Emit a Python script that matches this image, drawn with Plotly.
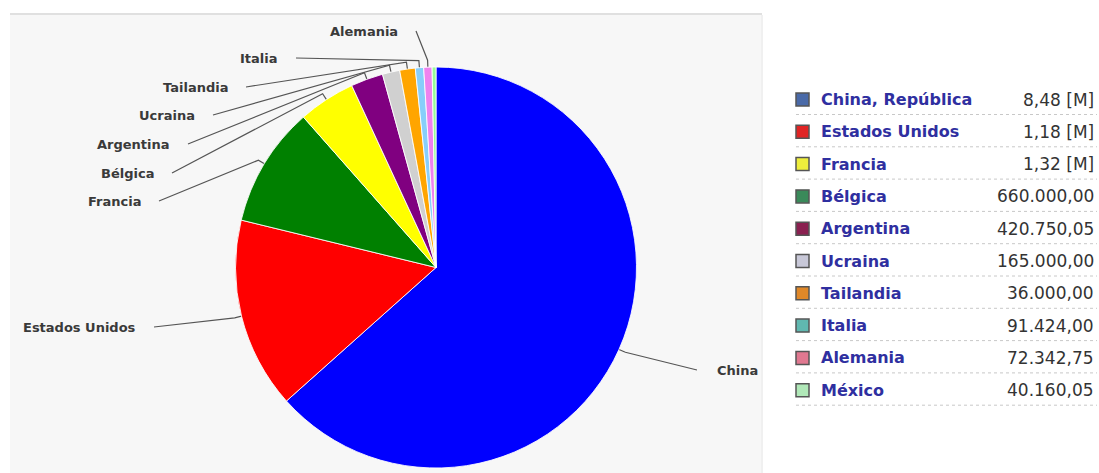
import math
import plotly.graph_objects as go

# ---------------- data ----------------
slice_names = ["China", "Estados Unidos", "Francia", "Bélgica", "Argentina",
               "Ucraina", "Tailandia", "Italia", "Alemania", "México"]
slice_share = [63.4, 15.4, 9.7, 4.6, 2.6, 1.4, 1.25, 0.67, 0.67, 0.31]
slice_colors = ["#0000ff", "#ff0000", "#008000", "#ffff00", "#800080",
                "#d0d0d0", "#ffa500", "#87cefa", "#ee82ee", "#98fb98"]

legend_names = ["China, República", "Estados Unidos", "Francia", "Bélgica", "Argentina",
                "Ucraina", "Tailandia", "Italia", "Alemania", "México"]
legend_values = ["8,48 [M]", "1,18 [M]", "1,32 [M]", "660.000,00", "420.750,05",
                 "165.000,00", "36.000,00", "91.424,00", "72.342,75", "40.160,05"]
legend_colors = ["#4a6aa8", "#e02424", "#eeee3c", "#3a8a5a", "#8a2050",
                 "#c8c8d8", "#e08828", "#60b8b0", "#e07890", "#b0e8b8"]

# ---------------- layout constants (pixels) ----------------
W, H = 1099, 473
CX, CY, R = 436.0, 267.5, 200.5

# label positions: (text anchor x, text y, anchor side)
label_pos = {
    "China": (715, 370, "left"),
    "Estados Unidos": (138, 327, "right"),
    "Francia": (143, 201, "right"),
    "Bélgica": (156, 173, "right"),
    "Argentina": (172, 144, "right"),
    "Ucraina": (197, 115, "right"),
    "Tailandia": (230, 87, "right"),
    "Italia": (280, 58, "right"),
    "Alemania": (400, 31, "right"),
}

fig = go.Figure()

# pie
fig.add_trace(go.Pie(
    labels=slice_names, values=slice_share, sort=False, direction="clockwise",
    rotation=0, textinfo="none", hoverinfo="label+percent",
    marker=dict(colors=slice_colors, line=dict(color="rgba(255,255,255,0.85)", width=1)),
    domain=dict(x=[(CX - R) / W, (CX + R) / W], y=[(H - CY - R) / H, (H - CY + R) / H]),
    showlegend=False,
))

# leader lines computed from slice mid-angles
total = sum(slice_share)
lx, ly = [], []
annotations = []
cum = 0.0
for name, v in zip(slice_names, slice_share):
    mid = (cum + v / 2) / total * 2 * math.pi
    cum += v
    if name not in label_pos:
        continue
    tx, ty, side = label_pos[name]
    ax_, ay_ = CX + R * math.sin(mid), CY - R * math.cos(mid)
    ex, ey = CX + (R + 7) * math.sin(mid), CY - (R + 7) * math.cos(mid)
    sx = tx + 16 if side == "right" else tx - 18
    lx += [sx, ex, ax_, None]
    ly += [ty, ey, ay_, None]
    annotations.append(dict(
        x=tx, y=ty, xref="x", yref="y", text=name, showarrow=False,
        xanchor=side, yanchor="middle",
        font=dict(family="DejaVu Sans", size=13, color="#3a3a3a", weight="bold"),
    ))

fig.add_trace(go.Scatter(x=lx, y=ly, mode="lines", line=dict(color="#555555", width=1.2),
                         hoverinfo="skip", showlegend=False))

# background and legend table
shapes = [
    dict(type="rect", xref="x", yref="y", x0=10, x1=762, y0=15, y1=H,
         fillcolor="#f7f7f7", line=dict(width=0), layer="below"),
    dict(type="line", xref="x", yref="y", x0=10, x1=762, y0=14, y1=14,
         line=dict(color="#e0e0e0", width=2), layer="below"),
    dict(type="line", xref="x", yref="y", x0=762, x1=762, y0=15, y1=H,
         line=dict(color="#f0f0f0", width=2), layer="below"),
]
row0, step = 99.5, 32.3
for i, (nm, val, col) in enumerate(zip(legend_names, legend_values, legend_colors)):
    y = row0 + i * step
    shapes.append(dict(type="rect", xref="x", yref="y", x0=796, x1=809, y0=y - 6.5, y1=y + 6.5,
                       fillcolor=col, line=dict(color="#555555", width=1.5), layer="above"))
    shapes.append(dict(type="line", xref="x", yref="y", x0=796, x1=1097, y0=y + 15, y1=y + 15,
                       line=dict(color="#c8c8c8", width=1, dash="dot"), layer="above"))
    annotations.append(dict(
        x=819, y=y, xref="x", yref="y", text=nm, showarrow=False, xanchor="left", yanchor="middle",
        font=dict(family="DejaVu Sans", size=16, color="#2f2fa0", weight="bold")))
    annotations.append(dict(
        x=1096, y=y, xref="x", yref="y", text=val, showarrow=False, xanchor="right", yanchor="middle",
        font=dict(family="DejaVu Sans", size=17, color="#333333")))

fig.update_layout(
    width=W, height=H, margin=dict(l=0, r=0, t=0, b=0),
    paper_bgcolor="white", plot_bgcolor="rgba(0,0,0,0)",
    xaxis=dict(range=[0, W], visible=False, fixedrange=True, domain=[0, 1]),
    yaxis=dict(range=[H, 0], visible=False, fixedrange=True, domain=[0, 1]),
    shapes=shapes, annotations=annotations, showlegend=False,
)

fig.write_html("out.html")
